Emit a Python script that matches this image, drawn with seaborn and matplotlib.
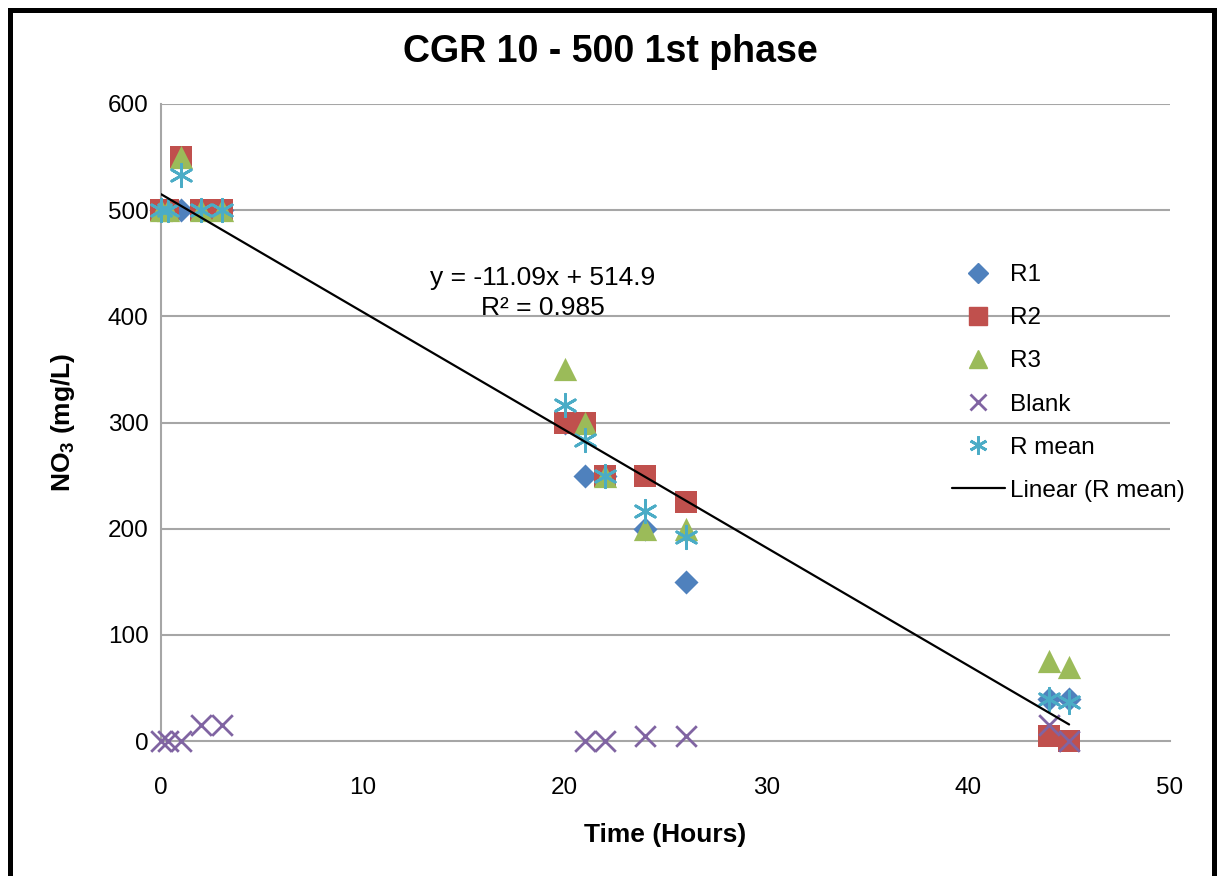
import numpy as np
import pandas as pd
import matplotlib
matplotlib.use("Agg")
import matplotlib.pyplot as plt
from matplotlib.patches import Rectangle
from matplotlib.lines import Line2D
import seaborn as sns

# ---- data ----
time_h = [0, 0.33, 1, 2, 3, 20, 21, 22, 24, 26, 44, 45]
r1 = [500, 500, 500, 500, 500, 300, 250, 250, 200, 150, 40, 40]
r2 = [500, 500, 550, 500, 500, 300, 300, 250, 250, 225, 5, 0]
r3 = [500, 500, 550, 500, 500, 350, 300, 250, 200, 200, 75, 70]
blank_time = [0, 0.33, 1, 2, 3, 21, 22, 24, 26, 44, 45]
blank = [0, 0, 0, 15, 15, 0, 0, 5, 5, 15, 0]
r_mean = [round((a + b + c) / 3, 1) for a, b, c in zip(r1, r2, r3)]

title = "CGR 10 - 500 1st phase"
x_label = "Time (Hours)"
y_label = r"$\mathbf{NO_3}$ (mg/L)"
eq_text = "y = -11.09x + 514.9\nR² = 0.985"
x_ticks = [0, 10, 20, 30, 40, 50]
y_ticks = [0, 100, 200, 300, 400, 500, 600]

sns.set_style("white")
plt.rcParams['font.family'] = ['Liberation Sans', 'DejaVu Sans']
plt.rcParams['mathtext.fontset'] = 'custom'
plt.rcParams['mathtext.bf'] = 'Liberation Sans:bold'
plt.rcParams['mathtext.rm'] = 'Liberation Sans'
plt.rcParams['text.color'] = 'black'
plt.rcParams['axes.labelcolor'] = 'black'
plt.rcParams['xtick.labelcolor'] = 'black'
plt.rcParams['ytick.labelcolor'] = 'black'

fig = plt.figure(figsize=(12.21, 8.76), dpi=100)
ax = fig.add_axes([161 / 1221, 1 - 741 / 876, (1170 - 161) / 1221, (741 - 104) / 876])

grid_c = "#A6A6A6"
for yv in y_ticks[1:]:
    ax.axhline(yv, color=grid_c, lw=1.5, zorder=0)

df_r = pd.DataFrame({"t": time_h, "R1": r1, "R2": r2, "R3": r3, "Rmean": r_mean})
df_b = pd.DataFrame({"t": blank_time, "Blank": blank})

c_r1, c_r2, c_r3, c_b, c_m = "#4F81BD", "#C0504D", "#9BBB59", "#8064A2", "#4BACC6"

sns.scatterplot(data=df_r, x="t", y="R1", ax=ax, marker="D", s=150, color=c_r1,
                edgecolor=c_r1, linewidth=0, zorder=3)
sns.scatterplot(data=df_r, x="t", y="R2", ax=ax, marker="s", s=270, color=c_r2,
                edgecolor=c_r2, linewidth=0, zorder=4)
sns.scatterplot(data=df_r, x="t", y="R3", ax=ax, marker="^", s=280, color=c_r3,
                edgecolor=c_r3, linewidth=0, zorder=5)
sns.scatterplot(data=df_b, x="t", y="Blank", ax=ax, marker="x", s=220, color=c_b,
                linewidth=2, zorder=6)
sns.scatterplot(data=df_r, x="t", y="Rmean", ax=ax, marker=(6, 2, 0), s=260, color=c_m,
                edgecolor=c_m, linewidth=2, zorder=7)
for coll in ax.collections:
    coll.set_clip_on(False)

# linear trend of R mean
coef = np.polyfit(time_h, r_mean, 1)
xs = np.array([min(time_h), max(time_h)])
ax.plot(xs, np.polyval(coef, xs), color="black", lw=1.6, zorder=8)

ax.text(18.93, 422, eq_text, ha="center", va="center", fontsize=19,
        multialignment="center", linespacing=1.35, color="black")

ax.set_xlim(0, 50)
ax.set_ylim(0, 600)
ax.set_xticks(x_ticks)
ax.set_yticks(y_ticks)
ax.tick_params(axis="x", labelsize=17.5, length=6, width=1.5, color=grid_c, pad=20, direction="out")
ax.tick_params(axis="y", labelsize=17.5, length=6, width=1.5, color=grid_c, pad=3, direction="out")
for s in ["top", "right"]:
    ax.spines[s].set_visible(False)
for s in ["left", "bottom"]:
    ax.spines[s].set_color(grid_c)
    ax.spines[s].set_linewidth(1.5)

ax.set_xlabel(x_label, fontsize=19, fontweight="bold", labelpad=17)
ax.set_ylabel(y_label, fontsize=19, fontweight="bold", labelpad=22)
fig.text(0.5, 1 - 52 / 876, title, ha="center", va="center", fontsize=27, fontweight="bold")

handles = [
    Line2D([], [], ls="none", marker="D", ms=10, color=c_r1, mec=c_r1),
    Line2D([], [], ls="none", marker="s", ms=13, color=c_r2, mec=c_r2),
    Line2D([], [], ls="none", marker="^", ms=13, color=c_r3, mec=c_r3),
    Line2D([], [], ls="none", marker="x", ms=12, color=c_b, mew=2),
    Line2D([], [], ls="none", marker=(6, 2, 0), ms=13, color=c_m, mew=2),
    Line2D([], [], color="black", lw=1.6),
]
labels = ["R1", "R2", "R3", "Blank", "R mean", "Linear (R mean)"]
leg = ax.legend(handles, labels, loc="upper left", bbox_to_anchor=(0.762, 0.783),
                frameon=False, fontsize=17.5, labelspacing=0.87, handlelength=2.2,
                handletextpad=0.2)

fig.patches.append(Rectangle((9.5 / 1221, -0.05), (1214 - 9.5) / 1221, 1.05 - 9.5 / 876,
                             transform=fig.transFigure, fill=False, edgecolor="black",
                             linewidth=3.6, zorder=10))

fig.savefig("out.png", dpi=100)
